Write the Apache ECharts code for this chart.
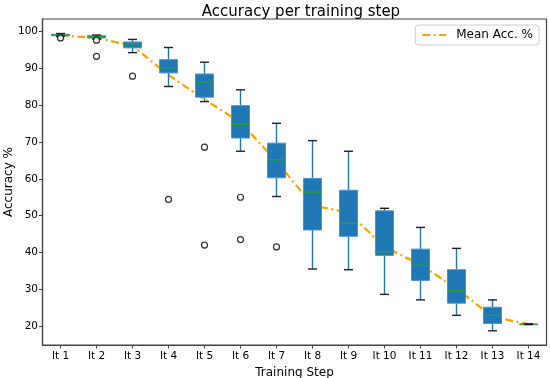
<!DOCTYPE html>
<html>
<head>
<meta charset="utf-8">
<script src="https://cdn.jsdelivr.net/npm/echarts@6/dist/echarts.min.js"></script>
<style>html,body{margin:0;padding:0;background:#fff;}#c{width:550px;height:378px;}</style>
</head>
<body>
<div id="c"></div>
<script>
var steps = ['It 1','It 2','It 3','It 4','It 5','It 6','It 7','It 8','It 9','It 10','It 11','It 12','It 13','It 14'];
var whiskerLow  = [98.7, 98.0, 94.3, 85.1, 81.0, 67.5, 55.2, 35.5, 35.3, 28.6, 27.1, 22.9, 18.7, 20.4];
var q1          = [98.9, 98.3, 95.6, 88.8, 82.2, 71.1, 60.3, 46.1, 44.4, 39.2, 32.4, 26.2, 20.7, 20.5];
var median      = [99.1, 98.6, 96.7, 90.2, 86.3, 74.8, 65.2, 56.4, 47.9, 40.2, 36.5, 29.6, 22.9, 20.5];
var q3          = [99.3, 98.9, 97.2, 92.4, 88.5, 79.9, 69.7, 60.1, 56.9, 51.3, 40.9, 35.3, 25.1, 20.5];
var whiskerHigh = [99.5, 99.1, 97.9, 95.7, 91.7, 84.2, 75.1, 70.4, 67.5, 52.0, 46.8, 41.1, 27.1, 20.6];
var meanAcc     = [99.0, 98.3, 96.2, 88.2, 81.6, 75.3, 64.8, 52.8, 50.8, 41.5, 36.7, 30.2, 22.5, 20.5];
var outlierStep  = ['It 1','It 2','It 2','It 3','It 4','It 5','It 5','It 6','It 6','It 7'];
var outlierValue = [98.3, 97.7, 93.3, 87.9, 54.4, 68.6, 42.0, 55.0, 43.5, 41.5];
var yTicks = [20, 30, 40, 50, 60, 70, 80, 90, 100];
var yAxisTitle = 'Accuracy %';

var FONT = 'DejaVu Sans';
var boxData = steps.map(function(s, i){ return [i, whiskerLow[i], q1[i], median[i], q3[i], whiskerHigh[i]]; });
var outData = outlierStep.map(function(s, i){ return [steps.indexOf(s), outlierValue[i]]; });

var chart = echarts.init(document.getElementById('c'), null, {renderer:'canvas'});
chart.setOption({
  animation: false,
  backgroundColor: '#fff',
  title: {
    text: 'Accuracy per training step',
    left: 296, top: 0, textAlign: 'center',
    textStyle: {fontFamily: FONT, fontSize: 15, fontWeight: 'normal', color: '#000'}
  },
  graphic: [{
    type: 'text',
    x: 8.5, y: 182,
    rotation: Math.PI / 2,
    style: {text: yAxisTitle, fontFamily: FONT, fontSize: 12, fill: '#000', textAlign: 'center', textVerticalAlign: 'middle'}
  }],
  legend: {
    data: ['Mean Acc. %'],
    right: 11, top: 25,
    itemWidth: 24, itemHeight: 10,
    padding: [4, 6, 4, 6],
    borderColor: '#ccc', borderWidth: 1, borderRadius: 3,
    itemStyle: {opacity: 0},
    textStyle: {fontFamily: FONT, fontSize: 12, color: '#000', padding: [0, 0, 0, 5]}
  },
  grid: {left: 42.5, right: 3.5, top: 19, bottom: 33, show: true, borderColor: '#444', borderWidth: 1.2, containLabel: false, outerBoundsMode: 'none'},
  xAxis: {
    type: 'category',
    data: steps,
    boundaryGap: true,
    name: 'Training Step', nameLocation: 'middle', nameGap: 19,
    nameTextStyle: {fontFamily: FONT, fontSize: 12, color: '#000'},
    axisLine: {show: true, lineStyle: {color: '#444', width: 1.2}},
    axisTick: {show: true, alignWithLabel: true, length: 3.5, lineStyle: {color: '#444'}},
    axisLabel: {fontFamily: FONT, fontSize: 10.5, color: '#000', margin: 6, interval: 0},
    splitLine: {show: false}
  },
  yAxis: {
    type: 'value',
    min: 14.84, max: 103.45, splitNumber: 9,
    axisLine: {show: true, lineStyle: {color: '#444', width: 1.2}},
    axisTick: {show: true, length: 3.5, lineStyle: {color: '#444'}},
    axisLabel: {fontFamily: FONT, fontSize: 10.5, color: '#000', margin: 4.5, showMinLabel: false, showMaxLabel: false,
      formatter: function(v){ var r = Math.round(v); return (Math.abs(v - r) < 1e-6 && yTicks.indexOf(r) >= 0) ? String(r) : ''; }},
    splitLine: {show: false}
  },
  series: [
    {
      name: 'Mean Acc. %',
      type: 'line',
      data: meanAcc,
      symbol: 'none',
      z: 1,
      itemStyle: {color: '#FFA500'},
      lineStyle: {color: '#FFA500', width: 2.3, type: [8, 3.5, 2, 3.5]}
    },
    {
      name: 'boxes',
      type: 'custom',
      z: 3,
      data: boxData,
      encode: {x: 0, y: [1, 2, 3, 4, 5]},
      renderItem: function(params, api){
        var x = api.value(0);
        var lo = api.coord([x, api.value(1)]);
        var b1 = api.coord([x, api.value(2)]);
        var md = api.coord([x, api.value(3)]);
        var b3 = api.coord([x, api.value(4)]);
        var hi = api.coord([x, api.value(5)]);
        var bw = api.size([1, 0])[0] * 0.5;
        var cw = bw * 0.5;
        var cx = md[0];
        var blue = '#1f77b4';
        return {type: 'group', children: [
          {type: 'line', shape: {x1: cx, y1: hi[1], x2: cx, y2: b3[1]}, style: {stroke: blue, lineWidth: 1.4}},
          {type: 'line', shape: {x1: cx, y1: b1[1], x2: cx, y2: lo[1]}, style: {stroke: blue, lineWidth: 1.4}},
          {type: 'rect', shape: {x: cx - bw / 2, y: b3[1], width: bw, height: Math.max(b1[1] - b3[1], 0.5)}, style: {fill: blue, stroke: '#4a93cf', lineWidth: 1}},
          {type: 'line', shape: {x1: cx - bw / 2, y1: md[1], x2: cx + bw / 2, y2: md[1]}, style: {stroke: '#2ca02c', lineWidth: 1.3}},
          {type: 'line', shape: {x1: cx - cw / 2, y1: hi[1], x2: cx + cw / 2, y2: hi[1]}, style: {stroke: '#222', lineWidth: 1.4}},
          {type: 'line', shape: {x1: cx - cw / 2, y1: lo[1], x2: cx + cw / 2, y2: lo[1]}, style: {stroke: '#222', lineWidth: 1.4}}
        ]};
      }
    },
    {
      name: 'outliers',
      type: 'scatter',
      z: 4,
      data: outData,
      symbol: 'circle',
      symbolSize: 6,
      itemStyle: {color: '#fff', borderColor: '#000', borderWidth: 1.2}
    }
  ]
});
</script>
</body>
</html>
